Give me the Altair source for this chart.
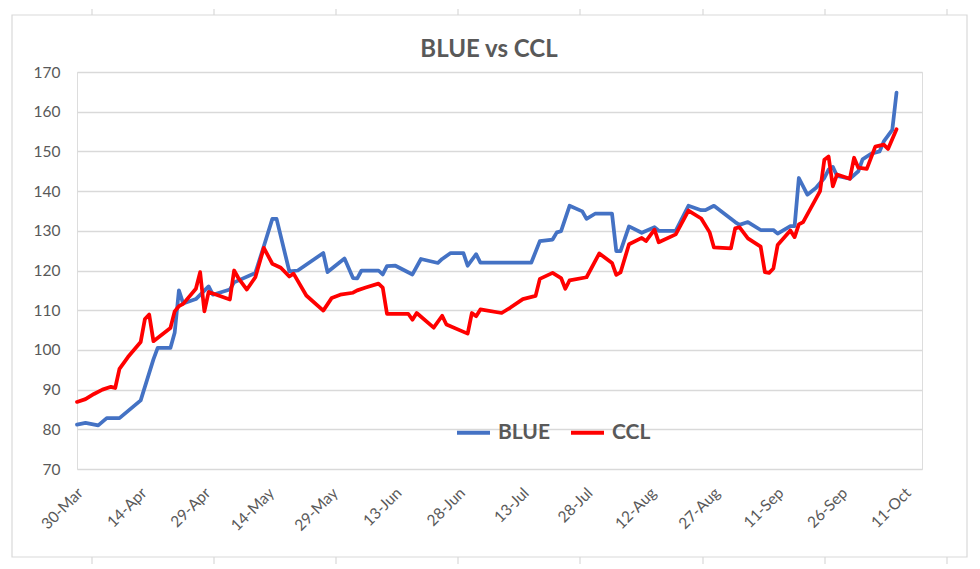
import altair as alt
import pandas as pd

# ---- data ----
blue_dates = [
    "2020-03-30", "2020-04-01", "2020-04-04", "2020-04-06", "2020-04-09", "2020-04-14",
    "2020-04-17", "2020-04-18", "2020-04-21", "2020-04-22", "2020-04-23", "2020-04-24",
    "2020-04-27", "2020-04-30", "2020-05-01", "2020-05-05", "2020-05-06", "2020-05-11",
    "2020-05-13", "2020-05-15", "2020-05-16", "2020-05-19", "2020-05-21", "2020-05-27",
    "2020-05-28", "2020-06-01", "2020-06-03", "2020-06-04", "2020-06-05", "2020-06-09",
    "2020-06-10", "2020-06-11", "2020-06-13", "2020-06-17", "2020-06-19", "2020-06-23",
    "2020-06-24", "2020-06-26", "2020-06-29", "2020-06-30", "2020-07-02", "2020-07-03",
    "2020-07-15", "2020-07-17", "2020-07-20", "2020-07-21", "2020-07-22", "2020-07-24",
    "2020-07-27", "2020-07-28", "2020-07-30", "2020-08-03", "2020-08-04", "2020-08-05",
    "2020-08-07", "2020-08-10", "2020-08-13", "2020-08-14", "2020-08-18", "2020-08-21",
    "2020-08-24", "2020-08-25", "2020-08-27", "2020-09-01", "2020-09-02", "2020-09-04",
    "2020-09-07", "2020-09-10", "2020-09-11", "2020-09-14", "2020-09-15", "2020-09-16",
    "2020-09-18", "2020-09-20", "2020-09-22", "2020-09-23", "2020-09-24", "2020-09-25",
    "2020-09-28", "2020-09-30", "2020-10-01", "2020-10-03", "2020-10-05", "2020-10-06",
    "2020-10-08", "2020-10-09",
]
blue_values = [
    81.2, 81.6, 81.0, 82.8, 82.8, 87.3,
    97.6, 100.5, 100.5, 104.3, 115.0, 111.7,
    112.8, 116.0, 113.9, 115.2, 117.0, 119.4,
    126.1, 133.0, 133.0, 119.8, 120.0, 124.4,
    119.6, 123.0, 118.1, 118.0, 120.0, 120.0,
    119.0, 121.1, 121.2, 119.0, 122.9, 121.9,
    122.9, 124.4, 124.4, 121.2, 124.1, 122.0,
    122.0, 127.4, 127.8, 129.6, 129.9, 136.3,
    134.9, 133.0, 134.3, 134.3, 124.9, 124.9,
    131.1, 129.5, 130.9, 130.0, 130.0, 136.3,
    135.2, 135.2, 136.3, 132.2, 131.5, 132.2,
    130.2, 130.2, 129.3, 131.2, 131.2, 143.3,
    139.1, 140.8, 143.3, 145.4, 146.1, 143.8,
    143.1, 145.0, 148.0, 149.4, 150.0, 152.5,
    155.4, 164.8,
]

ccl_dates = [
    "2020-03-30", "2020-04-01", "2020-04-03", "2020-04-05", "2020-04-07", "2020-04-08",
    "2020-04-09", "2020-04-11", "2020-04-14", "2020-04-15", "2020-04-16", "2020-04-17",
    "2020-04-21", "2020-04-22", "2020-04-23", "2020-04-24", "2020-04-27", "2020-04-28",
    "2020-04-29", "2020-04-30", "2020-05-05", "2020-05-06", "2020-05-07", "2020-05-09",
    "2020-05-11", "2020-05-13", "2020-05-15", "2020-05-17", "2020-05-19", "2020-05-20",
    "2020-05-23", "2020-05-27", "2020-05-29", "2020-05-31", "2020-06-03", "2020-06-04",
    "2020-06-06", "2020-06-09", "2020-06-10", "2020-06-11", "2020-06-16", "2020-06-17",
    "2020-06-18", "2020-06-22", "2020-06-24", "2020-06-25", "2020-06-30", "2020-07-01",
    "2020-07-02", "2020-07-03", "2020-07-08", "2020-07-10", "2020-07-13", "2020-07-16",
    "2020-07-17", "2020-07-20", "2020-07-22", "2020-07-23", "2020-07-24", "2020-07-28",
    "2020-07-31", "2020-08-03", "2020-08-04", "2020-08-05", "2020-08-07", "2020-08-10",
    "2020-08-11", "2020-08-13", "2020-08-14", "2020-08-18", "2020-08-21", "2020-08-24",
    "2020-08-26", "2020-08-27", "2020-08-31", "2020-09-01", "2020-09-02", "2020-09-04",
    "2020-09-07", "2020-09-08", "2020-09-09", "2020-09-10", "2020-09-11", "2020-09-14",
    "2020-09-15", "2020-09-16", "2020-09-17", "2020-09-21", "2020-09-22", "2020-09-23",
    "2020-09-24", "2020-09-25", "2020-09-28", "2020-09-29", "2020-09-30", "2020-10-02",
    "2020-10-04", "2020-10-06", "2020-10-07", "2020-10-09",
]
ccl_values = [
    86.9, 87.6, 88.9, 90.0, 90.7, 90.4,
    95.2, 98.2, 102.0, 107.8, 108.9, 102.2,
    105.5, 109.7, 111.0, 111.6, 115.4, 119.6,
    109.7, 114.6, 112.7, 120.0, 118.1, 115.2,
    118.3, 125.7, 121.7, 120.7, 118.5, 119.2,
    113.7, 109.9, 113.1, 113.9, 114.4, 115.0,
    115.7, 116.7, 115.7, 109.1, 109.1, 107.6,
    109.3, 105.6, 108.6, 106.4, 104.1, 109.3,
    108.5, 110.2, 109.3, 110.6, 112.8, 113.6,
    117.9, 119.4, 118.1, 115.4, 117.5, 118.3,
    124.3, 121.9, 118.9, 119.5, 126.6, 128.2,
    127.4, 130.3, 127.1, 129.1, 135.1, 133.1,
    129.6, 125.8, 125.6, 130.6, 130.9, 128.1,
    126.0, 119.6, 119.4, 120.5, 126.4, 130.1,
    128.4, 131.6, 132.2, 140.0, 147.9, 148.7,
    141.2, 144.2, 143.1, 148.4, 145.9, 145.6,
    151.2, 151.7, 150.6, 155.6,
]

series_names = ["BLUE", "CCL"]
series_colors = ["#4472C4", "#FF0000"]
chart_title = "BLUE vs CCL"
x_tick_dates = [(2020, 3, 30), (2020, 4, 14), (2020, 4, 29), (2020, 5, 14), (2020, 5, 29),
                (2020, 6, 13), (2020, 6, 28), (2020, 7, 13), (2020, 7, 28), (2020, 8, 12),
                (2020, 8, 27), (2020, 9, 11), (2020, 9, 26), (2020, 10, 11)]
y_ticks = [70, 80, 90, 100, 110, 120, 130, 140, 150, 160, 170]

# ---- build table ----
df = pd.concat([
    pd.DataFrame({"date": blue_dates, "value": blue_values, "series": "BLUE"}),
    pd.DataFrame({"date": ccl_dates, "value": ccl_values, "series": "CCL"}),
], ignore_index=True)

TXT = "#595959"
GRID = "#d9d9d9"
FONT = "Lato"

def dt(t):
    return alt.DateTime(year=t[0], month=t[1], date=t[2], utc=True)

W, H = 845, 397

lines = alt.Chart(df).mark_line(strokeWidth=3.75, strokeJoin="round", strokeCap="round").encode(
    x=alt.X("date:T",
            scale=alt.Scale(type="utc", domain=[dt((2020, 3, 30)), dt((2020, 10, 15))], nice=False),
            axis=alt.Axis(values=[dt(t) for t in x_tick_dates],
                          labelExpr="utcFormat(datum.value, '%d-%b')",
                          labelAngle=315, labelAlign="right", labelBaseline="middle",
                          labelPadding=21, labelOffset=3, labelFont=FONT, labelFontSize=15.5,
                          labelColor=TXT, ticks=False, tickSize=0, domain=False, grid=False,
                          title=None, labelOverlap=False)),
    y=alt.Y("value:Q", scale=alt.Scale(domain=[70, 170], nice=False, zero=False),
            axis=alt.Axis(values=y_ticks, labelFont=FONT, labelFontSize=15.5, labelColor=TXT,
                          labelPadding=17, ticks=False, tickSize=0, domain=False,
                          gridColor=GRID, gridWidth=1.3, title=None)),
    color=alt.Color("series:N", scale=alt.Scale(domain=series_names, range=series_colors),
                    legend=alt.Legend(title=None, orient="none", direction="horizontal",
                                      legendX=378, legendY=342, symbolType="stroke",
                                      symbolSize=1089, symbolStrokeWidth=4,
                                      labelFont=FONT, labelFontSize=21, labelFontWeight="bold",
                                      labelColor=TXT, labelOffset=6, columnPadding=13)),
    order=alt.Order("date:T"),
)

one = pd.DataFrame({"t": [chart_title]})
frame = alt.Chart(one).mark_rect(fill="transparent", stroke=GRID, strokeWidth=1.2).encode(
    x=alt.value(-65), x2=alt.value(890), y=alt.value(-57), y2=alt.value(485)
)
title = alt.Chart(one).mark_text(font=FONT, fontSize=24, fontWeight="bold", color=TXT,
                                 align="center", baseline="alphabetic").encode(
    text="t:N", x=alt.value(412), y=alt.value(-15)
)

frame_tick_px = pd.DataFrame({"px": [15, 137, 259, 381, 503, 626, 748, 870]})
top_ticks = alt.Chart(frame_tick_px).mark_rule(color=GRID, strokeWidth=1.2).encode(
    x=alt.X("px:Q", scale=None), y=alt.value(-63), y2=alt.value(-57)
)
bot_ticks = alt.Chart(frame_tick_px).mark_rule(color=GRID, strokeWidth=1.2).encode(
    x=alt.X("px:Q", scale=None), y=alt.value(485), y2=alt.value(492)
)

chart = alt.layer(frame, top_ticks, bot_ticks, title, lines).properties(
    width=W, height=H,
    autosize=alt.AutoSizeParams(type="none"),
    padding={"left": 69, "top": 64, "right": 50, "bottom": 96},
).configure_view(stroke=None).configure(background="white")

chart.save("out.html", embed_options={"renderer": "svg", "actions": False})
